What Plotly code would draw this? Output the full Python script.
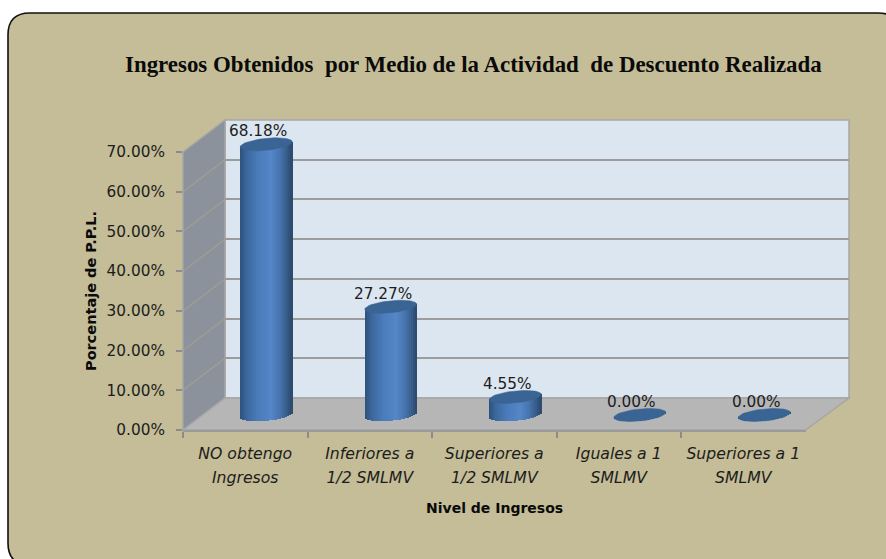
import numpy as np
import plotly.graph_objects as go

# ---- data ----
categories = ["NO obtengo<br>Ingresos", "Inferiores a<br>1/2 SMLMV", "Superiores a<br>1/2 SMLMV",
              "Iguales a 1<br>SMLMV", "Superiores a 1<br>SMLMV"]
values = [68.18, 27.27, 4.55, 0.0, 0.0]
value_labels = ["68.18%", "27.27%", "4.55%", "0.00%", "0.00%"]
y_ticks = [0, 10, 20, 30, 40, 50, 60, 70]
y_tick_labels = ["0.00%", "10.00%", "20.00%", "30.00%", "40.00%", "50.00%", "60.00%", "70.00%"]
title_text = "Ingresos Obtenidos\u00a0 por Medio de la Actividad\u00a0 de Descuento Realizada"
y_title = "Porcentaje de P.P.L."
x_title = "Nivel de Ingresos"

# ---- page geometry (pixels) ----
W, H = 886, 559
PX_PER_CAT = 124.5
PX_PER_UNIT = 3.97
FONT = "DejaVu Sans"
X_RANGE = [-0.5, 4.5]


def px(x):
    return x / W


def py(y):
    return 1 - y / H


def poly(points, **kw):
    path = "M " + " L ".join(f"{px(a)} {py(b)}" for a, b in points) + " Z"
    return dict(type="path", path=path, xref="paper", yref="paper", layer="below", **kw)


# ---- card and 3D walls ----
r = 22
L, T, R, B = 8, 13, 900, 565
card = (f"M {px(L)} {py(T + r)} Q {px(L)} {py(T)} {px(L + r)} {py(T)} L {px(R - r)} {py(T)} "
        f"Q {px(R)} {py(T)} {px(R)} {py(T + r)} L {px(R)} {py(B - r)} Q {px(R)} {py(B)} {px(R - r)} {py(B)} "
        f"L {px(L + r)} {py(B)} Q {px(L)} {py(B)} {px(L)} {py(B - r)} Z")
shapes = [dict(type="path", path=card, xref="paper", yref="paper", layer="below",
               fillcolor="#c4bd97", line=dict(color="#101010", width=1.6))]
EDGE = dict(color="#a6a6a6", width=1.5)
shapes.append(poly([(225, 120), (849, 120), (849, 398), (225, 398)], fillcolor="#dce6f1", line=EDGE))
shapes.append(poly([(183, 152), (225, 120), (225, 398), (183, 430)], fillcolor="#8b929b", line=EDGE))
shapes.append(poly([(183, 430), (225, 398), (849, 398), (805.5, 430)], fillcolor="#b6b6b6", line=EDGE))
for t in y_ticks[1:-1]:
    front = 430 - t * PX_PER_UNIT
    shapes.append(dict(type="line", xref="paper", yref="paper", layer="below",
                       x0=px(183), y0=py(front), x1=px(225), y1=py(front - 32),
                       line=dict(color="#a09f93", width=1.3)))

# ---- cylinder construction, from the values ----
A, BB, K = 26.0, 6.0, 2.5          # ellipse half-width, half-height, tilt (pixels)
N = 26


def shade(u):
    stops_u = [-1, -0.75, -0.3, 0.2, 0.55, 0.85, 1]
    stops_c = np.array([[44, 80, 122], [60, 103, 156], [74, 123, 186], [84, 134, 200],
                        [70, 115, 172], [52, 88, 130], [44, 72, 106]])
    c = [np.interp(u, stops_u, stops_c[:, i]) for i in range(3)]
    return f"rgb({c[0]:.0f},{c[1]:.0f},{c[2]:.0f})"


edges = np.linspace(-1, 1, N + 1)
mids = (edges[:-1] + edges[1:]) / 2
sx, sbase, sh, scol = [], [], [], []
for i, v in enumerate(values):
    for u in mids:
        low = (K * u - BB * np.sqrt(1 - u * u)) / PX_PER_UNIT
        top = v + K * u / PX_PER_UNIT
        sx.append(i + u * A / PX_PER_CAT)
        sbase.append(low)
        sh.append(top - low)
        scol.append(shade(u))
strip_w = (2 * A / N + 0.5) / PX_PER_CAT

fig = go.Figure()
# front axis carrier
fig.add_trace(go.Scatter(x=categories, y=values, xaxis="x3", yaxis="y3", mode="markers",
                         marker=dict(opacity=0), hoverinfo="skip", showlegend=False))
# back wall carrier
fig.add_trace(go.Scatter(x=[0, 4], y=[0, 70], xaxis="x", yaxis="y", mode="markers",
                         marker=dict(opacity=0), hoverinfo="skip", showlegend=False))
# bars
fig.add_trace(go.Bar(x=sx, y=sh, base=sbase, width=strip_w, xaxis="x2", yaxis="y2",
                     marker=dict(color=scol, line=dict(width=0)), showlegend=False, hoverinfo="skip"))
t = np.linspace(0, 2 * np.pi, 60)
for i, v in enumerate(values):
    fig.add_trace(go.Scatter(
        x=i + A * np.cos(t) / PX_PER_CAT,
        y=v + (BB * np.sin(t) + K * np.cos(t)) / PX_PER_UNIT,
        xaxis="x2", yaxis="y2", mode="lines", fill="toself", fillcolor="#3a6494",
        line=dict(color="#3a6494", width=0.5), hoverinfo="skip", showlegend=False))

annotations = [dict(x=i, y=v, xref="x2", yref="y2", text=lab, showarrow=False, xshift=-8, yshift=13,
                    xanchor="center", yanchor="middle",
                    font=dict(family=FONT, size=15.3, color="#1c1c1c"))
               for i, (v, lab) in enumerate(zip(values, value_labels))]
CENTER = dict(xref="paper", yref="paper", showarrow=False, xanchor="center", yanchor="middle")
annotations.append(dict(x=px(473), y=py(65), text=f"<b>{title_text}</b>",
                        font=dict(family="Liberation Serif", size=22.9, color="#0a0a0a"), **CENTER))
annotations.append(dict(x=px(91), y=py(291), text=f"<b>{y_title}</b>", textangle=-90,
                        font=dict(family=FONT, size=14.5, color="#0a0a0a"), **CENTER))
annotations.append(dict(x=px(494), y=py(508), text=f"<b>{x_title}</b>",
                        font=dict(family=FONT, size=14, color="#0a0a0a"), **CENTER))

hidden = dict(showgrid=False, zeroline=False, showticklabels=False, ticks="", showline=False, automargin=False)
fig.update_layout(
    width=W, height=H, margin=dict(l=0, r=0, t=0, b=0, pad=0), autosize=False,
    paper_bgcolor="white", plot_bgcolor="rgba(0,0,0,0)", barmode="overlay", bargap=0,
    shapes=shapes, annotations=annotations, showlegend=False,
    # back wall
    xaxis=dict(domain=[px(225), px(849)], range=X_RANGE, **hidden),
    yaxis=dict(domain=[py(398), py(120)], range=[0, 70], showgrid=True, gridcolor="#9c9c9c", gridwidth=2,
               tickmode="array", tickvals=y_ticks, zeroline=False, showticklabels=False, ticks="", showline=False,
               automargin=False),
    # bars: shifted half the depth; range extended for the ellipse below zero
    xaxis2=dict(domain=[px(204), px(826.5)], range=X_RANGE, anchor="y2", **hidden),
    yaxis2=dict(domain=[py(415 + 10 * PX_PER_UNIT), py(415 - 75 * PX_PER_UNIT)], range=[-10, 75], anchor="x2", **hidden),
    # front axes with the labels
    xaxis3=dict(domain=[px(183), px(805.5)], range=X_RANGE, anchor="y3", type="category", automargin=False,
                categoryorder="array", categoryarray=categories, tickmode="array", tickvals=categories,
                ticktext=[f'<span style="font-size:15.7px">{c}</span>' for c in categories],
                tickson="boundaries", ticks="outside", ticklen=6, tickcolor="#8c8c8c", tickwidth=1.5,
                showline=True, linecolor="#9a9a9a", linewidth=2, showgrid=False, zeroline=False, tickangle=0,
                ticklabelstandoff=5,
                tickfont=dict(family=FONT, size=18.5, color="#1c1c1c", style="italic")),
    yaxis3=dict(domain=[py(430), py(152)], range=[0, 70], anchor="x3", tickmode="array", tickvals=y_ticks,
                ticktext=y_tick_labels, ticks="outside", ticklen=6, tickcolor="#8c8c8c", tickwidth=1.5,
                showline=False, showgrid=False, zeroline=False, automargin=False, ticklabelstandoff=8,
                tickfont=dict(family=FONT, size=15.3, color="#1c1c1c")),
)
fig.write_html("out.html", config=dict(displayModeBar=False), post_script="document.body.style.margin='0';")
